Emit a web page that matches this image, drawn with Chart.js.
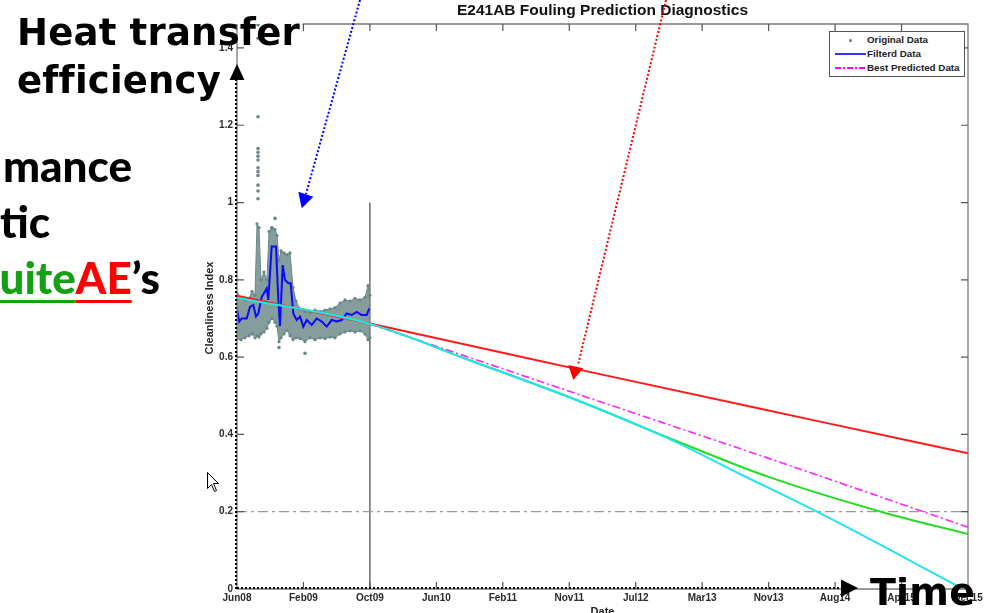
<!DOCTYPE html>
<html>
<head>
<meta charset="utf-8">
<script src="https://cdn.jsdelivr.net/npm/chart.js@4.4.1/dist/chart.umd.min.js"></script>
<style>
  html, body { margin: 0; padding: 0; background: #fff; overflow: hidden; }
  #wrap { position: relative; width: 988px; height: 613px; }
  #chart { position: absolute; left: 0; top: 0; }
  .slide { position: absolute; white-space: nowrap; line-height: 1; font-weight: bold; color: #000; }
  .big { font-family: 'DejaVu Sans'; font-size: 37px; letter-spacing: 0.2px; }
  .cal { font-family: Lato; font-size: 44px; font-weight: 900; }
  .ul { text-decoration: underline; text-decoration-thickness: 3px; text-underline-offset: 6px; }
  #legend { position: absolute; left: 829px; top: 31px; width: 134px; height: 44px; border: 1px solid #555;
            background: #fff; font: bold 9.8px 'Liberation Sans', Arial, sans-serif; color: #222; }
  #legend .row { position: absolute; left: 37px; }
  #legend .mk { position: absolute; }
</style>
</head>
<body>
<div id="wrap">
  <canvas id="chart" width="988" height="613"></canvas>

  <div id="legend">
    <div class="mk" style="left:19px;top:7px;width:3px;height:3px;border-radius:2px;background:#5f7f7f"></div>
    <div class="row" style="top:2px">Original Data</div>
    <div class="mk" style="left:5px;top:21px;width:31px;height:2px;background:#3333ff"></div>
    <div class="row" style="top:16px">Filterd Data</div>
    <div class="mk" style="left:5px;top:35px;width:31px;height:2px;background:repeating-linear-gradient(to right,#ff00ff 0 6px,transparent 6px 8px,#ff00ff 8px 10px,transparent 10px 12px)"></div>
    <div class="row" style="top:30px">Best Predicted Data</div>
  </div>

  <div class="slide big" style="left:17px;top:14px">Heat transfer</div>
  <div class="slide big" style="left:17px;top:62px">efficiency</div>
  <div class="slide cal" style="right:856px;top:143px">mance</div>
  <div class="slide cal" style="right:938px;top:199px">tic</div>
  <div class="slide cal" style="right:828px;top:255px"><span class="ul" style="color:#14a014">uite</span><span class="ul" style="color:#ff0000">AE</span>’s</div>
  <div class="slide big" style="left:870px;top:573px;font-size:38px">Time</div>
</div>

<script>
// x positions are in "tick steps": 0 = Jun08, 1 = Feb09, ... 11 = Dec15
const dateTicks = ['Jun08', 'Feb09', 'Oct09', 'Jun10', 'Feb11', 'Nov11', 'Jul12', 'Mar13', 'Nov13', 'Aug14', 'Apr15', 'Dec15'];
const yTicks = [0, 0.2, 0.4, 0.6, 0.8, 1, 1.2, 1.4];
const yTickLabels = ['0', '0.2', '0.4', '0.6', '0.8', '1', '1.2', '1.4'];

// original data: dense cloud, read as an upper/lower envelope
const bandT =    [0.000, 0.060, 0.120, 0.181, 0.226, 0.271, 0.301, 0.331, 0.361, 0.406, 0.451, 0.482, 0.527, 0.572, 0.602, 0.632, 0.662, 0.707, 0.752, 0.798, 0.843, 0.888, 0.948, 1.023, 1.099, 1.174, 1.249, 1.324, 1.400, 1.475, 1.550, 1.625, 1.701, 1.776, 1.851, 1.926, 1.971, 2.000];
const bandHigh = [0.765, 0.755, 0.748, 0.752, 0.770, 0.760, 0.945, 0.935, 0.800, 0.820, 0.800, 0.925, 0.935, 0.930, 0.915, 0.850, 0.875, 0.870, 0.865, 0.870, 0.780, 0.745, 0.725, 0.718, 0.715, 0.722, 0.718, 0.722, 0.725, 0.728, 0.740, 0.748, 0.745, 0.752, 0.748, 0.755, 0.785, 0.760];
const bandLow =  [0.648, 0.645, 0.650, 0.655, 0.660, 0.650, 0.655, 0.652, 0.660, 0.665, 0.675, 0.690, 0.700, 0.690, 0.680, 0.640, 0.650, 0.660, 0.670, 0.655, 0.645, 0.650, 0.648, 0.640, 0.650, 0.645, 0.650, 0.648, 0.652, 0.650, 0.660, 0.665, 0.668, 0.665, 0.668, 0.660, 0.645, 0.650];

// isolated original points
const outlierT = [0.316, 0.316, 0.316, 0.316, 0.316, 0.316, 0.316, 0.316, 0.316, 0.316, 0.316, 0.316, 0.316, 0.572, 0.522, 1.023, 0.632];
const outlierY = [1.460, 1.425, 1.222, 1.140, 1.130, 1.120, 1.110, 1.090, 1.080, 1.070, 1.045, 1.030, 1.010, 0.959, 0.934, 0.610, 0.625];

// filtered data
const filtT = [0, 0.035, 0.071, 0.146, 0.196, 0.245, 0.286, 0.321, 0.372, 0.421, 0.447, 0.471, 0.522, 0.587, 0.622, 0.647, 0.688, 0.722, 0.772, 0.808, 0.847, 0.898, 0.948, 0.998, 1.049, 1.124, 1.199, 1.275, 1.350, 1.425, 1.500, 1.576, 1.651, 1.726, 1.801, 1.877, 1.952, 1.991];
const filtY = [0.722, 0.692, 0.700, 0.700, 0.730, 0.735, 0.705, 0.713, 0.756, 0.770, 0.778, 0.748, 0.886, 0.886, 0.748, 0.680, 0.838, 0.800, 0.791, 0.791, 0.713, 0.696, 0.705, 0.679, 0.696, 0.683, 0.700, 0.692, 0.679, 0.696, 0.692, 0.696, 0.713, 0.709, 0.717, 0.709, 0.709, 0.726];

// prediction curves
const redT = [0, 2, 5.46, 8.67, 11];
const redY = [0.759, 0.687, 0.556, 0.437, 0.351];
const cyanT = [0, 2, 3.5, 5.11, 6.47, 7.6, 8.75, 10.93];
const cyanY = [0.754, 0.686, 0.592, 0.489, 0.391, 0.295, 0.198, 0.0];
const greenT = [0, 2, 3.5, 5.11, 6.47, 8.0, 9.73, 11];
const greenY = [0.754, 0.686, 0.592, 0.489, 0.393, 0.290, 0.198, 0.142];
const bestT = [2, 5.46, 8, 11];
const bestY = [0.686, 0.485, 0.338, 0.160];

const limitT = [0, 11];
const limitY = [0.2, 0.2];
const splitT = [2, 2];
const splitY = [0, 1];

const chartTitle = 'E241AB Fouling Prediction Diagnostics';

const pts = (xs, ys) => xs.map((x, i) => ({ x: x, y: ys[i] }));
const cloud = '#6a8787';

const framePlugin = {
  id: 'frame',
  afterDatasetsDraw(chart) {
    const { ctx, chartArea: a, scales: { x, y } } = chart;
    ctx.save();
    ctx.strokeStyle = '#7a7a7a';
    ctx.lineWidth = 1.3;
    ctx.beginPath();
    ctx.moveTo(x.getPixelForValue(1) - 1, a.top);
    ctx.lineTo(a.right, a.top);
    ctx.lineTo(a.right, a.bottom);
    ctx.lineTo(a.left, a.bottom);
    ctx.lineTo(a.left, a.top);
    ctx.stroke();
    ctx.strokeStyle = '#555';
    ctx.lineWidth = 1.2;
    ctx.beginPath();
    for (let i = 1; i < dateTicks.length - 1; i++) {
      const px = x.getPixelForValue(i);
      ctx.moveTo(px, a.bottom); ctx.lineTo(px, a.bottom - 7);
      ctx.moveTo(px, a.top); ctx.lineTo(px, a.top + 7);
    }
    for (let i = 1; i < yTicks.length; i++) {
      const py = y.getPixelForValue(yTicks[i]);
      ctx.moveTo(a.left, py); ctx.lineTo(a.left + 7, py);
      ctx.moveTo(a.right, py); ctx.lineTo(a.right - 7, py);
    }
    ctx.stroke();
    ctx.restore();
  },
  afterDraw(chart) {
    const { ctx, chartArea: a } = chart;
    ctx.save();
    // title and axis titles
    ctx.fillStyle = '#111';
    ctx.textAlign = 'center';
    ctx.textBaseline = 'middle';
    ctx.font = 'bold 15.5px "Liberation Sans", Arial';
    ctx.fillText(chartTitle, (a.left + a.right) / 2, 10.5);
    ctx.fillStyle = '#222';
    ctx.font = 'bold 11px "Liberation Sans", Arial';
    ctx.textBaseline = 'top';
    ctx.fillText('Date', (a.left + a.right) / 2, 606);
    ctx.translate(210, 308);
    ctx.rotate(-Math.PI / 2);
    ctx.textBaseline = 'middle';
    ctx.fillText('Cleanliness Index', 0, 0);
    ctx.restore();

    const dotted = (x1, y1, x2, y2, color) => {
      ctx.save();
      ctx.strokeStyle = color;
      ctx.lineWidth = 2;
      ctx.setLineDash([2, 2]);
      ctx.beginPath();
      ctx.moveTo(x1, y1); ctx.lineTo(x2, y2);
      ctx.stroke();
      ctx.restore();
    };
    const tri = (p, color) => {
      ctx.save();
      ctx.fillStyle = color;
      ctx.beginPath();
      ctx.moveTo(p[0], p[1]); ctx.lineTo(p[2], p[3]); ctx.lineTo(p[4], p[5]);
      ctx.closePath();
      ctx.fill();
      ctx.restore();
    };
    // slide annotations
    dotted(236, 589, 236, 80, '#000');
    tri([237, 64, 229.5, 80, 244.5, 80], '#000');
    dotted(237, 588, 842, 588, '#000');
    tri([858, 588, 841, 579.5, 841, 597], '#000');
    dotted(360, 0, 306, 194, '#0000ff');
    tri([298.3, 191.7, 313.3, 196.7, 301.7, 208.3], '#0000ff');
    dotted(666, 0, 578, 365, '#ff0000');
    tri([568.3, 365, 583.3, 368.3, 573.3, 380], '#ff0000');

    // mouse cursor
    ctx.save();
    ctx.fillStyle = '#fff';
    ctx.strokeStyle = '#000';
    ctx.lineWidth = 1;
    ctx.beginPath();
    ctx.moveTo(207.5, 472.5); ctx.lineTo(207.5, 488.5); ctx.lineTo(211.5, 484.5);
    ctx.lineTo(214.5, 491.5); ctx.lineTo(216.5, 490.5); ctx.lineTo(213.5, 483.5);
    ctx.lineTo(218.5, 483.5); ctx.closePath();
    ctx.fill(); ctx.stroke();
    ctx.restore();
  }
};

new Chart(document.getElementById('chart'), {
  type: 'line',
  data: {
    datasets: [
      { data: pts(cyanT, cyanY), borderColor: '#22e4f0', borderWidth: 2, pointRadius: 0, cubicInterpolationMode: 'monotone', order: 0 },
      { data: pts(redT, redY), borderColor: '#ff1a1a', borderWidth: 2, pointRadius: 0, cubicInterpolationMode: 'monotone', order: 1 },
      { data: pts(greenT, greenY), borderColor: '#22dd22', borderWidth: 2, pointRadius: 0, cubicInterpolationMode: 'monotone', order: 2 },
      { data: pts(bestT, bestY), borderColor: '#ff22ff', borderWidth: 1.6, borderDash: [8, 3, 2, 3], pointRadius: 0, cubicInterpolationMode: 'monotone', order: 3 },
      { data: pts(filtT, filtY), borderColor: '#0a0aff', borderWidth: 2, pointRadius: 0, tension: 0, order: 4 },
      { type: 'scatter', data: pts(outlierT, outlierY), backgroundColor: cloud, borderWidth: 0, pointRadius: 1.8, order: 5 },
      { data: pts(bandT, bandLow), borderColor: cloud, borderWidth: 1, pointRadius: 1.6, pointBackgroundColor: cloud, pointBorderWidth: 0, fill: false, order: 7 },
      { data: pts(bandT, bandHigh), borderColor: cloud, backgroundColor: 'rgba(106,135,135,0.82)', borderWidth: 1, pointRadius: 1.6, pointBackgroundColor: cloud, pointBorderWidth: 0, fill: '-1', order: 6 },
      { data: pts(limitT, limitY), borderColor: '#9a9a9a', borderWidth: 1.3, borderDash: [10, 4, 3, 4], pointRadius: 0, order: 8 },
      { data: pts(splitT, splitY), borderColor: '#222', borderWidth: 1, pointRadius: 0, order: 9 }
    ]
  },
  options: {
    responsive: false,
    animation: false,
    devicePixelRatio: 1,
    layout: { padding: { left: 0, right: 20, top: 24, bottom: 0 } },
    plugins: {
      legend: { display: false },
      tooltip: { enabled: false },
      title: { display: false }
    },
    scales: {
      x: {
        type: 'linear', min: 0, max: 11,
        afterBuildTicks: s => { s.ticks = dateTicks.map((_, i) => ({ value: i })); },
        afterFit: s => { s.height = 24; },
        grid: { display: false, drawTicks: false },
        border: { display: false },
        ticks: {
          callback: v => dateTicks[v],
          color: '#2a2a2a', padding: 3, maxRotation: 0, autoSkip: false,
          font: { family: '"Liberation Sans", Arial', size: 10, weight: 'bold' }
        }
      },
      y: {
        type: 'linear', min: 0, max: 1.462,
        afterBuildTicks: s => { s.ticks = yTicks.map(v => ({ value: v })); },
        afterFit: s => { s.width = 237; },
        grid: { display: false, drawTicks: false },
        border: { display: false },
        ticks: {
          callback: (v, i) => yTickLabels[i],
          color: '#2a2a2a', padding: 4,
          font: { family: '"Liberation Sans", Arial', size: 10, weight: 'bold' }
        }
      }
    }
  },
  plugins: [framePlugin]
});
</script>
</body>
</html>
